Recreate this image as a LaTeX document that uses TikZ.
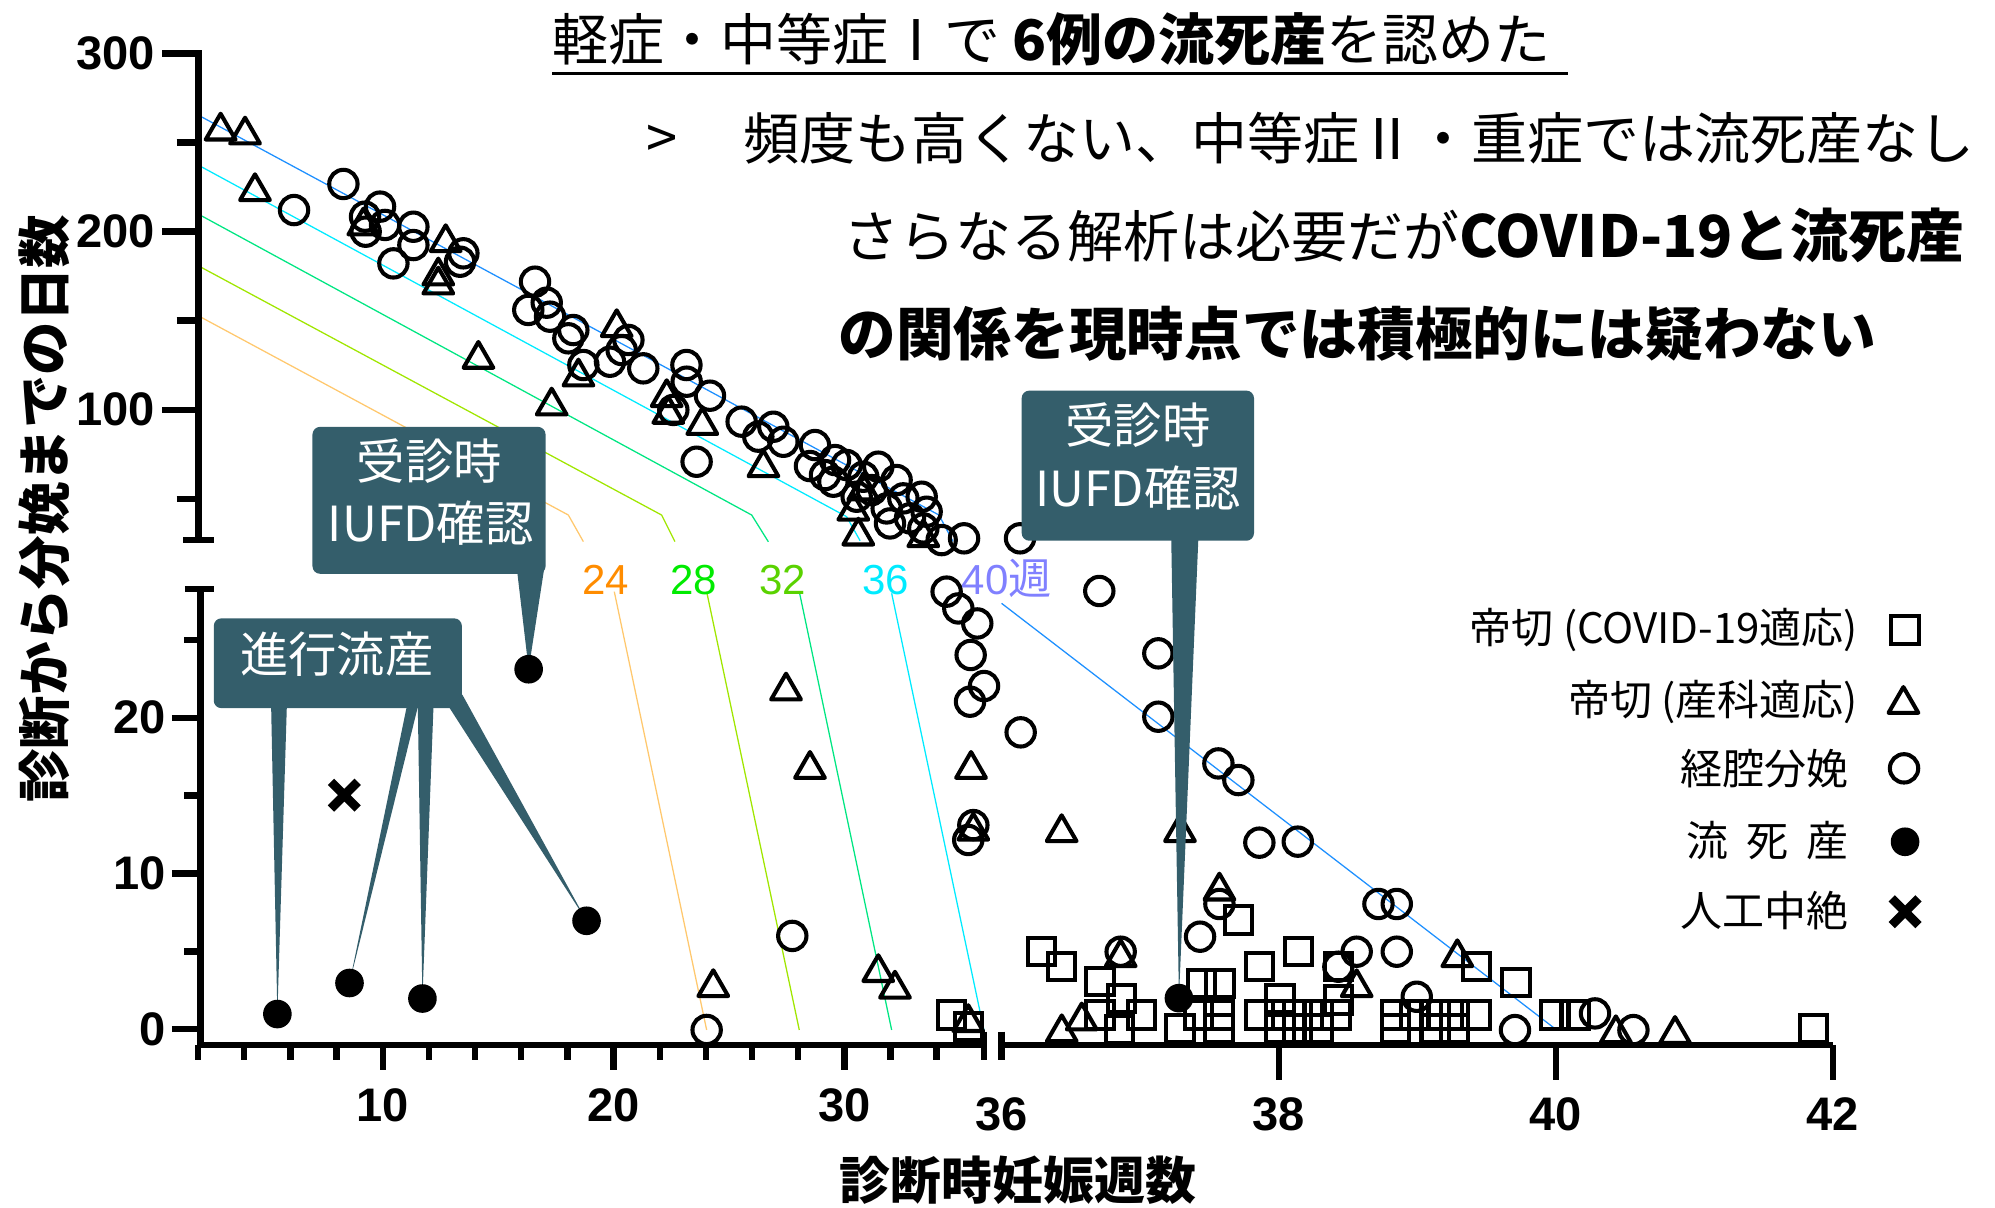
\documentclass[tikz,border=0pt]{standalone}
\usepackage{fontspec}
\setmainfont{Liberation Sans}
\newfontfamily\jp{Noto Sans CJK JP}
\usetikzlibrary{shapes.geometric,shapes.misc}
\definecolor{boxc}{RGB}{52,94,107}
\definecolor{lnF}{RGB}{30,144,255}
\definecolor{lbF}{RGB}{128,128,255}
\definecolor{lnS}{RGB}{0,235,255}
\definecolor{lnT}{RGB}{0,230,130}
\definecolor{lbT}{RGB}{90,210,0}
\definecolor{lnE}{RGB}{160,230,0}
\definecolor{lbE}{RGB}{0,235,0}
\definecolor{lnV}{RGB}{255,200,110}
\definecolor{lbV}{RGB}{255,140,0}
\begin{document}
\begin{tikzpicture}[x=1pt,y=-1pt,
  axisline/.style={line width=5pt},
  oc/.style={circle,draw,line width=3.2pt,minimum size=22.3pt,inner sep=0pt},
  ot/.style={regular polygon,regular polygon sides=3,draw,line width=3.2pt,line join=round,minimum size=27pt,inner sep=0pt,yshift=-3.3pt},
  os/.style={rectangle,draw,line width=3.2pt,minimum size=21.5pt,inner sep=0pt},
  fc/.style={circle,fill,minimum size=22.5pt,inner sep=0pt},
  xm/.style={cross out,draw,line width=7pt,minimum size=14pt,inner sep=0pt},
  ticklab/.style={font=\bfseries\fontsize{37}{40}\selectfont,inner sep=0pt},
  wklab/.style={font=\fontsize{33}{36}\selectfont,inner sep=0pt},
  wkline/.style={line width=1pt},
  callout/.style={fill=boxc,rounded corners=6pt},
  wedge/.style={fill=boxc},
  calltext/.style={text=white,font=\jp\fontsize{38}{42}\selectfont,inner sep=0pt},
  legtext/.style={font=\jp\fontsize{33}{36}\selectfont,inner sep=0pt,anchor=east},
  bigtext/.style={font=\jp\fontsize{44}{50}\selectfont,inner sep=0pt,anchor=west}
]
\useasboundingbox (0,0) rectangle (1568,949);

% ---------- week reference lines ----------
\draw[wkline,lnF] (157.2,91.2) -- (738,404.8) -- (749,425.5);
\draw[wkline,lnS] (157.2,130.5) -- (665.4,406.1) -- (676,425);
\draw[wkline,lnT] (157.2,169) -- (590.8,404.8) -- (603.9,425.8);
\draw[wkline,lnE] (157.2,209.6) -- (520,404.8) -- (530.5,425.7);
\draw[wkline,lnV] (157.2,248.9) -- (446.7,404.8) -- (458.5,425.7);
\draw[wkline,lnV] (482.8,465) -- (555.4,809.5);
\draw[wkline,lnE] (555.4,465) -- (628.2,809.5);
\draw[wkline,lnT] (628.2,465) -- (700.8,809.5);
\draw[wkline,lnS] (700.8,466.3) -- (773.3,809.5);
\draw[wkline,lnF] (787.2,474.2) -- (1222.8,809);

% ---------- axes ----------
\draw[axisline] (127.6,42) -- (155.9,42) -- (155.9,424.4);
\draw[axisline] (144,424.4) -- (168,424.4);
\foreach \yy in {182,322} \draw[axisline] (127.6,\yy) -- (155.9,\yy);
\foreach \yy in {112,252,392} \draw[axisline] (138.9,\yy) -- (155.9,\yy);
\draw[axisline] (145.4,462.9) -- (168,462.9);
\draw[axisline] (157.5,462.9) -- (157.5,821.3) -- (773.4,821.3);
\foreach \yy in {808.9,686.5,564.1} \draw[axisline] (135,\yy) -- (157.5,\yy);
\foreach \yy in {747.7,625.3,502.9} \draw[axisline] (145,\yy) -- (157.5,\yy);
\foreach \w in {2,4,6,8,12,14,16,18,22,24,26,28,32,34}
  \draw[axisline] ({482.2+(\w-20)*18.14},821.3) -- ({482.2+(\w-20)*18.14},833.1);
\foreach \w in {10,20,30}
  \draw[axisline] ({482.2+(\w-20)*18.14},821.3) -- ({482.2+(\w-20)*18.14},841);
\draw[axisline] (773.4,810.8) -- (773.4,833.1);
\draw[axisline] (787.2,810.8) -- (787.2,833.1);
\draw[axisline] (787.2,821.3) -- (1440.6,821.3);
\foreach \xx in {1005,1222.8,1440.6} \draw[axisline] (\xx,821.3) -- (\xx,849);

% ---------- tick labels ----------
\node[ticklab,anchor=east] (y300) at (121.8,42) {300};
\node[ticklab,anchor=east] (y200) at (121.8,182) {200};
\node[ticklab,anchor=east] (y100) at (121.8,322) {100};
\node[ticklab,anchor=east] (y20) at (130.3,564.1) {20};
\node[ticklab,anchor=east] (y10) at (130.3,686.5) {10};
\node[ticklab,anchor=east] (y0) at (130.3,808.9) {0};
\node[ticklab] (x10) at (300.8,868.5) {10};
\node[ticklab] (x20) at (482.2,868.5) {20};
\node[ticklab] (x30) at (663.6,868.5) {30};
\node[ticklab] (x36) at (787.2,875.8) {36};
\node[ticklab] (x38) at (1005,875.8) {38};
\node[ticklab] (x40) at (1222.8,875.8) {40};
\node[ticklab] (x42) at (1440.6,875.8) {42};

% ---------- axis titles ----------
\node[rotate=90,inner sep=0pt,font=\jp\bfseries\fontsize{42}{46}\selectfont] (ylab) at (35,400) {診断から分娩までの日数};
\node[inner sep=0pt,font=\jp\bfseries\fontsize{40}{44}\selectfont] (xlab) at (800,928) {診断時妊娠週数};

% ---------- open circles ----------
\foreach \x/\y [count=\i] in {269.9/144.6,231.1/165.1,298.7/162.4,286.9/170.3,287.4/182.1,302.6/176.8,324.9/178.2,324.9/192.6,309.2/207,364.2/199.1,361.6/205.7,420.5/221.4,415.2/243.6,429.7/237.9,432.3/248.9,450.6/259.4,446.7/265.9,458.5/286.9,493.9/267.2,488.6/275.1,479.4/284.3,505.6/289.5,539.5/286.9,539.7/300,547.5/362.9,529.2/322.2,558/311,582.9/331.4,596/343.2,607.8/335.4,615.7/347.2,640.5/349.8,636.6/366.3,648.4/373.4,656.3/361.6,665.4/365.5,678.5/374.7,690.3/366.8,685.1/385.2,696.9/399.6,704.7/377.3,710/391.7,715.2/407.4,724.4/390.4,728.3/402.2,725.7/415.3,740.1/424.5,757.7/423.1,801.7/423.1,673.3/390.4,655/378.6,699.5/411.4,
744/465,753.2/478.2,768.1/490,762.9/514.8,773.4/539.2,762.4/551.5,802.2/575.6,864/464.5,910.4/513.5,910.4/563.3,765/648.5,761/660.2,622.7/735.6,555.4/809.5,957.6/600,973.3/613.1,989.8/662.3,1020/661.5,958.4/710.5,943.2/736.2,880.8/748,1066.3/748,1097.8/748,1083.4/710.5,1097.8/710.5,1051.9/759.8,1113.5/783.4,1190.7/809.6,1253.6/796.5,1283.8/809.6}
  \node[oc] (oc\i) at (\x,\y) {};

% ---------- open triangles ----------
\foreach \x/\y [count=\i] in {173.4/99.6,192.6/102.7,200.4/147.2,285.6/174.2,350.3/187.3,344.5/213.5,344.5/220.6,376/279,433.6/315.7,484.7/254.1,454.6/292.9,524/309.1,525.3/322.2,552/331,600/364.2,670.7/398.3,674.6/417.9,725.7/419.2,678.5/382.5,
617.8/539.7,636.6/601.3,763.2/601.3,834.4/651,765/649.8,927.4/651,560.6/772.8,690.3/761,703.4/774,958.4/696.9,880.8/749.3,761/800.3,1145.4/749.3,1066.3/772.9,834.5/808.3,850.2/799,1316.5/809.6,1270/809}
  \node[ot] (ot\i) at (\x,\y) {};

% ---------- open squares ----------
\foreach \x/\y [count=\i] in {747.9/797.7,761/806.9,818.7/748,834.5/759.8,864.6/771.6,881.6/784.7,897.3/797.8,864.6/797.8,880/809,973.3/723.1,1020.5/748,989.8/759.8,1006.1/784.7,1051.9/759.8,1051.9/786,1160.6/759.8,1191.5/772.4,944.5/772.9,958.9/772.9,942/797.8,958/797.8,990/797.8,1006/797.8,1020/797.8,1036/797.8,1050/797.8,1097/797.8,1112/797.8,1128/797.8,1143/797.8,1160/797.8,1222/797.8,1238/797.8,927.5/808.3,958/808.3,1006/808.3,1020/808.3,1036/808.3,1097/808.3,1128/808.3,1143/808.3,1425.2/808.3}
  \node[os] (os\i) at (\x,\y) {};

% ---------- callout wedges ----------
\fill[wedge] (406,445) -- (428,445) -- (415.5,526) -- cycle;
\fill[wedge] (920.5,420) -- (942,420) -- (926.6,784.5) -- cycle;
\fill[wedge] (213,550) -- (225.6,550) -- (218,797) -- cycle;
\fill[wedge] (320.8,550) -- (329.8,550) -- (274.7,772.6) -- cycle;
\fill[wedge] (328.3,550) -- (340.9,550) -- (332,784.8) -- cycle;
\fill[wedge] (353.4,556.5) -- (363.4,546) -- (461,723.7) -- cycle;

% ---------- filled circles and cross ----------
\node[fc] (f1) at (218,797) {};
\node[fc] (f2) at (274.7,772.6) {};
\node[fc] (f3) at (332,784.8) {};
\node[fc] (f4) at (461,723.7) {};
\node[fc] (f5) at (415.5,526) {};
\node[fc] (f6) at (926.6,784.5) {};
\node[xm] (x1) at (270.6,625) {};

% ---------- callout boxes ----------
\fill[callout] (245.6,335.5) rectangle (428.8,451);
\node[calltext] (c1a) at (337.5,362) {受診時};
\node[calltext] (c1b) at (338.6,411.3) {IUFD確認};
\fill[callout] (803,307) rectangle (985.6,425);
\node[calltext] (c2a) at (894.5,334) {受診時};
\node[calltext] (c2b) at (894.5,383.7) {IUFD確認};
\fill[callout] (168,486) rectangle (363,556.6);
\node[calltext] (c3) at (264.7,514) {進行流産};

% ---------- week labels ----------
\node[wklab,text=lbV] (w24) at (476,455.8) {24};
\node[wklab,text=lbE] (w28) at (545,455.8) {28};
\node[wklab,text=lbT] (w32) at (615.4,455.8) {32};
\node[wklab,text=lnS] (w36) at (696.2,455.8) {36};
\node[wklab,text=lbF,anchor=west] (w40) at (755.8,454.6) {40{\jp\fontsize{34}{36}\selectfont 週}};

% ---------- legend ----------
\node[legtext] (l1) at (1460.6,495.2) {帝切 (COVID-19適応)};
\node[legtext] (l2) at (1460.6,551.5) {帝切 (産科適応)};
\node[legtext] (l3) at (1452.7,603.9) {経腔分娩};
\node[legtext] (l4) at (1452.7,660.3) {流\kern14pt 死\kern14pt 産};
\node[legtext] (l5) at (1452.7,715.3) {人工中絶};
\node[os] (m1) at (1497.3,495.2) {};
\node[ot] (m2) at (1496,550.2) {};
\node[oc] (m3) at (1496.5,603.9) {};
\node[fc] (m4) at (1497.3,661.6) {};
\node[xm] (m5) at (1497.3,716.6) {};

% ---------- headline texts ----------
\node[bigtext] (t1) at (434,31) {軽症・中等症Ⅰで {\bfseries 6例の流死産}を認めた};
\draw[line width=2.5pt] (434,57.7) -- (1232,57.7);
\node[inner sep=0pt,font=\jp\fontsize{44}{50}\selectfont] (gt) at (520,111.5) {>};
\node[bigtext] (t2) at (584,109) {頻度も高くない、中等症Ⅱ・重症では流死産なし};
\node[bigtext] (t3) at (663,185) {さらなる解析は必要だが{\bfseries\fontsize{45.5}{50}\selectfont COVID-19と流死産}};
\node[bigtext,font=\jp\bfseries\fontsize{45.3}{50}\selectfont] (t4) at (659,262) {の関係を現時点では積極的には疑わない};
\end{tikzpicture}
\end{document}
